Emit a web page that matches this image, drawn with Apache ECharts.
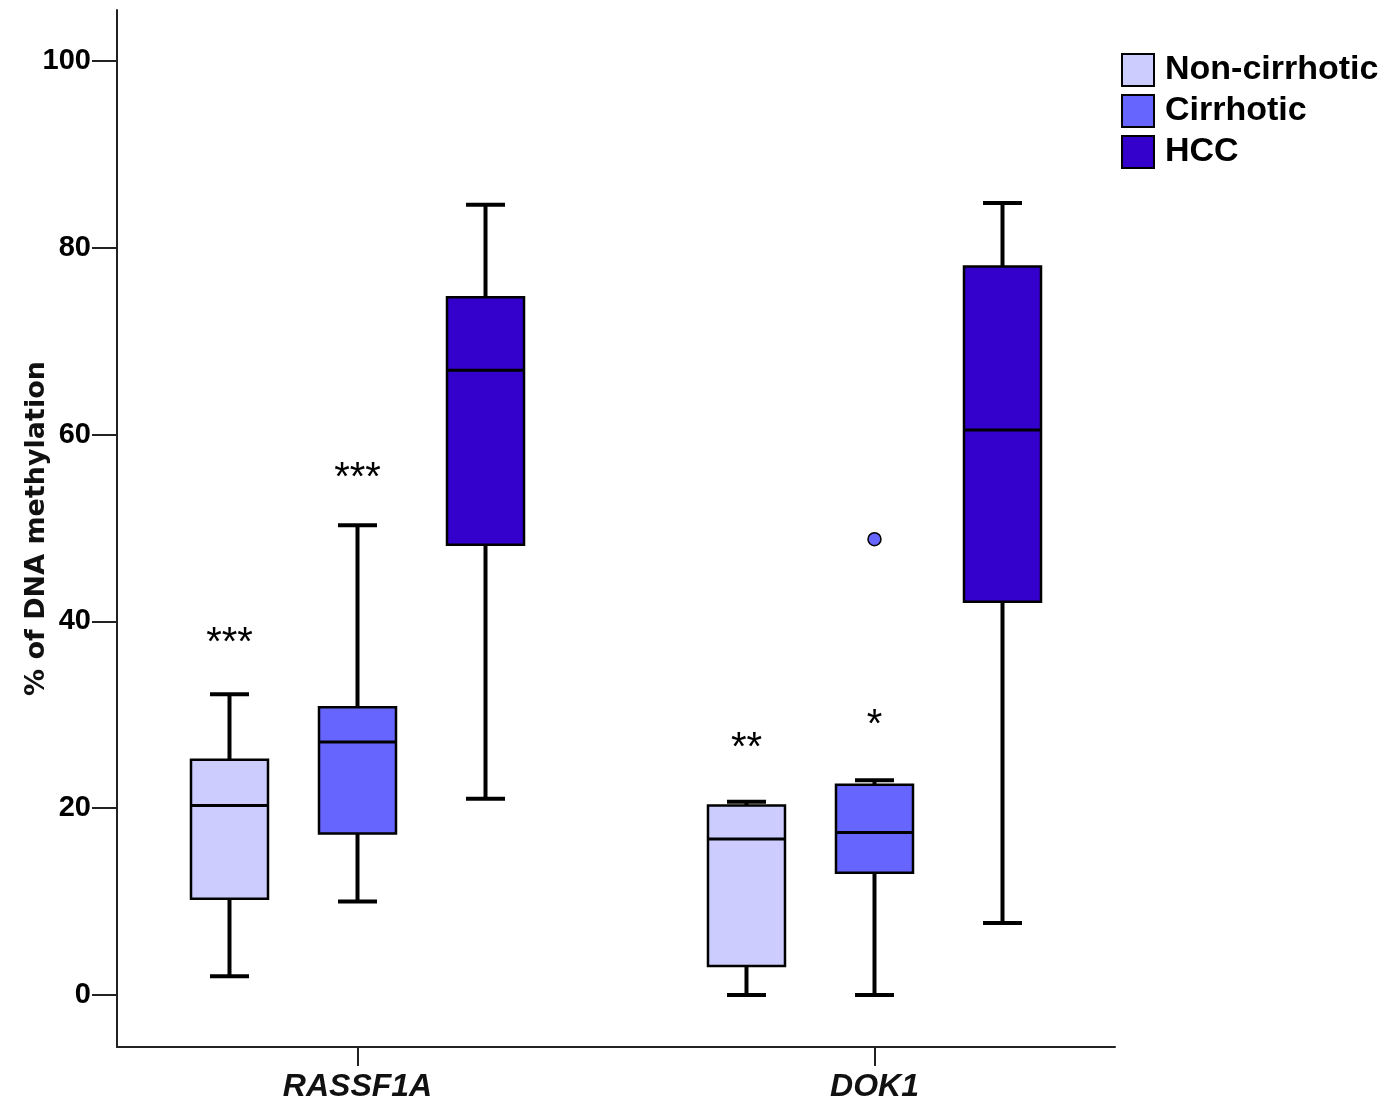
<!DOCTYPE html>
<html><head><meta charset="utf-8">
<script src="https://cdn.jsdelivr.net/npm/echarts@6/dist/echarts.min.js"></script>
<style>html,body{margin:0;padding:0;background:#fff}#c{width:1396px;height:1099px}</style>
</head><body><div id="c"></div>
<script>
// ---- data ----
const genes = ['RASSF1A', 'DOK1'];
const groups = ['Non-cirrhotic', 'Cirrhotic', 'HCC'];
// [min, Q1, median, Q3, max] for each gene
const nonCirrhotic = [[2.0, 10.3, 20.3, 25.2, 32.2], [0.0, 3.1, 16.7, 20.3, 20.7]];
const cirrhotic    = [[10.0, 17.3, 27.1, 30.8, 50.3], [0.0, 13.1, 17.4, 22.5, 23.0]];
const hcc          = [[21.0, 48.2, 66.9, 74.7, 84.6], [7.7, 42.1, 60.5, 78.0, 84.8]];
// outliers: [geneIndex, groupIndex, value]
const outliers = [[1, 1, 48.8]];
// significance marks
const sigGene  = [0, 0, 1, 1];
const sigGroup = [0, 1, 0, 1];
const sigValue = [38.5, 56.2, 27.3, 29.8];
const sigText  = ['***', '***', '**', '*'];
const yTicks = [0, 20, 40, 60, 80, 100];

// ---- layout / style ----
const colors = ['#CCCCFF', '#6666FF', '#3300CC'];
const groupOffset = [-0.2476, 0, 0.2476];
const BOX_W = 77, CAP_W = 39;
const stats = [nonCirrhotic, cirrhotic, hcc];

function renderBox(params, api) {
  const x = api.value(0);
  const v = [1, 2, 3, 4, 5].map(i => api.value(i));
  const p = v.map(val => api.coord([x, val]));
  const cx = p[0][0];
  const [yMin, yQ1, yMed, yQ3, yMax] = p.map(q => q[1]);
  const fill = api.visual('color');
  const ln = (x1, y1, x2, y2, w) => ({type: 'line', shape: {x1, y1, x2, y2}, style: {stroke: '#000', lineWidth: w}});
  return {type: 'group', children: [
    ln(cx, yMax, cx, yQ3, 4),
    ln(cx, yQ1, cx, yMin, 4),
    ln(cx - CAP_W / 2, yMax, cx + CAP_W / 2, yMax, 4),
    ln(cx - CAP_W / 2, yMin, cx + CAP_W / 2, yMin, 4),
    {type: 'rect', shape: {x: cx - BOX_W / 2, y: yQ3, width: BOX_W, height: yQ1 - yQ3},
     style: {fill: fill, stroke: '#000', lineWidth: 2.5}},
    ln(cx - BOX_W / 2, yMed, cx + BOX_W / 2, yMed, 3)
  ]};
}

const boxSeries = groups.map((name, s) => ({
  name: name,
  type: 'custom',
  renderItem: renderBox,
  itemStyle: {color: colors[s], borderColor: '#000', borderWidth: 2},
  encode: {x: 0, y: [1, 2, 3, 4, 5]},
  data: genes.map((g, i) => [i + groupOffset[s]].concat(stats[s][i]))
}));

const chart = echarts.init(document.getElementById('c'), null, {renderer: 'canvas'});
chart.setOption({
  backgroundColor: '#fff',
  animation: false,
  grid: {left: 117, right: 281, top: 10, bottom: 52, containLabel: false, outerBoundsMode: 'none'},
  legend: {
    data: groups,
    orient: 'vertical',
    left: 1116, top: 48,
    itemWidth: 32, itemHeight: 32, itemGap: 7,
    icon: 'rect',
    textStyle: {fontFamily: 'Liberation Sans, Arial, sans-serif', fontWeight: 'bold', fontSize: 34, lineHeight: 32, color: '#000', padding: [0, 0, 0, 6]}
  },
  xAxis: {
    type: 'value', min: -0.4652, max: 1.4652,
    splitLine: {show: false},
    axisLine: {onZero: false, lineStyle: {color: '#222', width: 2}},
    axisTick: {customValues: [0, 1], length: 19, lineStyle: {color: '#222', width: 2}},
    axisLabel: {customValues: [0, 1], formatter: v => genes[Math.round(v)], margin: 24,
      fontFamily: 'Liberation Sans Narrow, Arial Narrow, sans-serif', fontStyle: 'italic', fontWeight: 'bold', fontSize: 32, color: '#111'}
  },
  yAxis: {
    type: 'value', min: -5.567, max: 105.46,
    name: '% of DNA methylation', nameLocation: 'middle', nameRotate: 90, nameGap: 67,
    nameMoveOverlap: false,
    nameTextStyle: {fontFamily: 'DejaVu Sans, sans-serif', fontWeight: 'bold', fontSize: 27, color: '#111'},
    splitLine: {show: false},
    axisLine: {onZero: false, lineStyle: {color: '#222', width: 2}},
    axisTick: {customValues: yTicks, length: 25, lineStyle: {color: '#222', width: 2}},
    axisLabel: {customValues: yTicks, margin: 26,
      fontFamily: 'Liberation Sans, Arial, sans-serif', fontWeight: 'bold', fontSize: 29, color: '#000'}
  },
  series: boxSeries.concat([
    {
      name: 'outliers', type: 'scatter', symbol: 'circle', symbolSize: 13,
      itemStyle: {color: colors[1], borderColor: '#000', borderWidth: 1.5, opacity: 1},
      data: outliers.map(o => [o[0] + groupOffset[o[1]], o[2]])
    },
    {
      name: 'significance', type: 'custom',
      encode: {x: 0, y: 1},
      data: sigValue.map((v, i) => [sigGene[i] + groupOffset[sigGroup[i]], v]),
      renderItem: function (params, api) {
        const pt = api.coord([api.value(0), api.value(1)]);
        return {type: 'text', x: pt[0], y: pt[1] + 9,
          style: {text: sigText[params.dataIndex], fill: '#000', align: 'center', verticalAlign: 'middle',
            font: '40px "Liberation Sans", Arial, sans-serif'}};
      }
    }
  ])
});
</script></body></html>
